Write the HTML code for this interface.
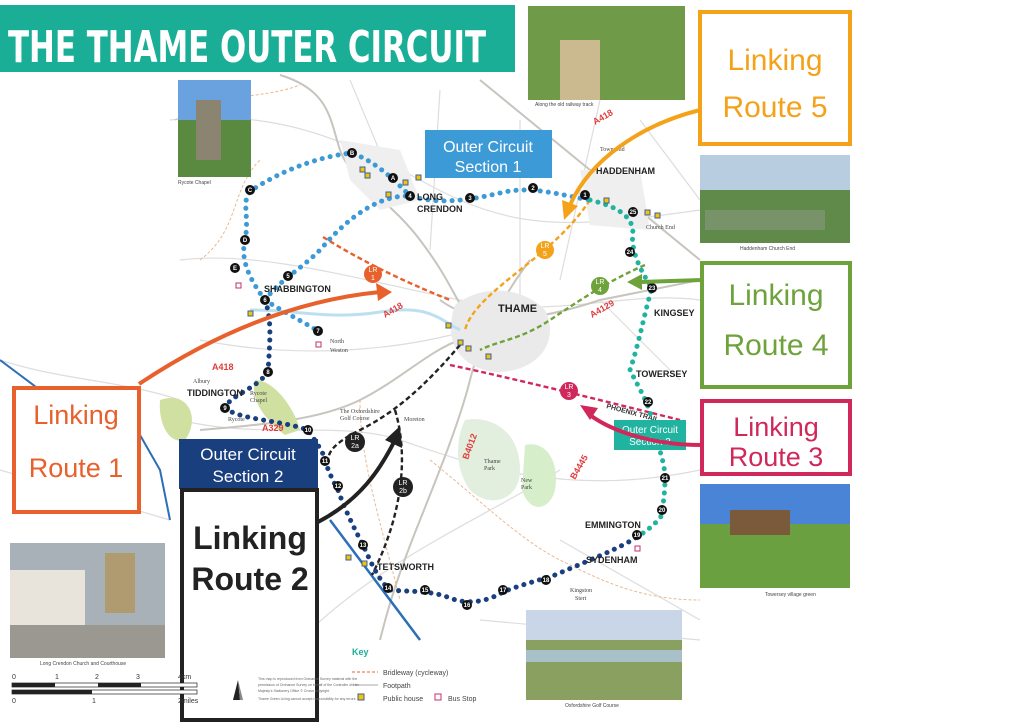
<!DOCTYPE html>
<html><head><meta charset="utf-8"><style>
body{margin:0;width:1024px;height:724px;overflow:hidden;background:#fff;font-family:"Liberation Sans",sans-serif}
svg{display:block}
</style></head><body>
<svg width="1024" height="724" viewBox="0 0 1024 724" xmlns="http://www.w3.org/2000/svg" font-family="Liberation Sans, sans-serif">
<!-- map background features -->
<g fill="none" stroke="#ddd" stroke-width="1.2">
<path d="M170 120 C260 110 330 130 420 180 S560 230 700 210"/>
<path d="M180 260 C260 250 360 280 460 300 S620 290 700 300"/>
<path d="M200 340 C300 360 400 350 470 330"/>
<path d="M180 420 C260 440 340 420 400 440 S560 500 700 470"/>
<path d="M300 640 C380 560 480 520 560 470"/>
<path d="M520 120 L520 300 M600 100 L560 280 M640 120 L700 200"/>
<path d="M350 80 L400 200 M440 90 L430 250 M600 300 L680 380 M560 540 L700 620"/>
<path d="M0 360 C60 380 120 380 180 400 M0 470 L170 520 M480 620 L700 640"/>
</g>
<g fill="none" stroke="#c8c4be" stroke-width="2">
<path d="M280 75 C330 90 330 120 340 150 S390 200 420 240 S450 290 470 320"/>
<path d="M530 260 C500 300 480 340 470 380 S440 470 420 520 S390 600 380 640"/>
<path d="M480 80 L700 260"/>
<path d="M440 300 C480 330 540 320 600 300 L700 280"/>
<path d="M200 430 C260 425 320 420 360 400 S430 350 460 340"/>
</g>
<g fill="none" stroke="#eab890" stroke-width="1" stroke-dasharray="3 2">
<path d="M175 120 C230 90 260 100 300 85"/>
<path d="M200 260 C240 230 230 190 260 160"/>
<path d="M430 460 C480 500 520 540 560 560 S640 600 700 600"/>
<path d="M360 400 C360 460 380 520 400 600"/>
</g>
<!-- Thame town -->
<path d="M455 305 C480 285 520 285 545 310 C560 340 540 370 500 372 C470 372 440 350 455 305Z" fill="#eaeaea"/>
<path d="M340 140 L400 150 L420 200 L380 210 L350 180Z" fill="#efefef"/>
<path d="M580 170 L640 170 L650 230 L590 225Z" fill="#efefef"/>
<!-- parks -->
<path d="M465 420 C490 415 520 430 520 470 C520 500 490 510 470 490 C455 470 455 440 465 420Z" fill="#e2efdf"/>
<path d="M525 445 C545 440 560 460 555 490 C550 510 530 515 522 490Z" fill="#d7eecb"/>
<path d="M160 400 C190 390 200 420 185 440 C170 445 158 425 160 400Z" fill="#cfe0a0"/>
<path d="M255 380 C275 380 295 410 300 430 L285 435 C265 420 250 400 255 380Z" fill="#cfe0a0"/>
<path d="M0 360 L40 390 L120 400 L160 470 L170 520" fill="none" stroke="#2a6fb8" stroke-width="2"/>
<path d="M330 520 L420 640" fill="none" stroke="#2a6fb8" stroke-width="2.5"/>
<path d="M250 310 C300 310 330 320 380 312 S440 320 460 330" fill="none" stroke="#bde0f0" stroke-width="3"/>
<!-- road labels -->
<g fill="#e03c3c" font-size="9" font-weight="bold">
<text x="385" y="318" transform="rotate(-30 385 318)">A418</text>
<text x="595" y="125" transform="rotate(-30 595 125)">A418</text>
<text x="592" y="318" transform="rotate(-30 592 318)">A4129</text>
<text x="212" y="370">A418</text><text x="262" y="431">A329</text>
<text x="468" y="460" transform="rotate(-70 468 460)">B4012</text>
<text x="575" y="480" transform="rotate(-60 575 480)">B4445</text>
<text x="606" y="408" transform="rotate(15 606 408)" fill="#333" font-size="7">PHOENIX TRAIL</text>
</g>
<!-- linking routes dashed -->
<g fill="none" stroke-width="2.4" stroke-dasharray="5 3">
<path d="M323 237 C360 260 400 280 450 300" stroke="#e8602c"/>
<path d="M590 200 C570 230 545 250 520 270 S470 310 465 330" stroke="#f3a21a"/>
<path d="M645 265 C610 280 580 300 550 320 S500 340 480 350" stroke="#6ea23a"/>
<path d="M450 365 C520 380 600 400 680 420" stroke="#d0285a"/>
<path d="M460 345 C430 380 400 410 360 430 S330 460 328 466" stroke="#222"/>
<path d="M395 410 C410 460 400 520 372 575" stroke="#222"/>
</g>
<!-- Section 1 light blue -->
<g fill="none" stroke="#3c9ad6" stroke-width="5" stroke-linecap="round" stroke-dasharray="0.1 8">
<path d="M265 300 C250 280 240 260 245 240 C250 215 240 200 252 190 C290 165 330 155 352 153 C370 160 385 170 410 196 C440 205 470 200 500 193 C530 185 560 195 590 200"/>
<path d="M265 300 C280 280 300 270 320 250 C350 215 380 195 410 196"/>
<path d="M265 300 C280 310 300 320 318 331"/>
</g>
<!-- Section 3 teal -->
<path d="M590 200 C610 205 630 212 633 230 C630 250 640 270 652 288 C645 310 640 340 630 370 C640 390 648 402 652 420 C655 440 665 460 665 478 C665 495 662 510 662 515 C655 525 645 532 637 537" fill="none" stroke="#1fb3a0" stroke-width="5" stroke-linecap="round" stroke-dasharray="0.1 8"/>
<!-- Section 2 navy -->
<path d="M265 300 C272 320 270 340 268 372 C255 390 230 395 225 408 C240 420 280 420 308 430 C318 445 325 455 325 461 C330 475 335 485 338 490 C345 510 355 530 363 545 C370 560 378 580 390 590 C410 592 430 590 450 598 C470 606 490 600 503 592 C520 585 540 580 555 575 C590 560 620 548 637 537" fill="none" stroke="#1a3f7f" stroke-width="5" stroke-linecap="round" stroke-dasharray="0.1 8"/>
<!-- numbered dots -->
<g font-size="6" font-weight="bold" fill="#fff" text-anchor="middle">
<g fill="#111"><circle cx="352" cy="153" r="5"/><circle cx="393" cy="178" r="5"/><circle cx="410" cy="196" r="5"/><circle cx="470" cy="198" r="5"/><circle cx="533" cy="188" r="5"/><circle cx="585" cy="195" r="5"/><circle cx="250" cy="190" r="5"/><circle cx="245" cy="240" r="5"/><circle cx="235" cy="268" r="5"/><circle cx="288" cy="276" r="5"/><circle cx="265" cy="300" r="5"/><circle cx="318" cy="331" r="5"/><circle cx="268" cy="372" r="5"/><circle cx="225" cy="408" r="5"/><circle cx="308" cy="430" r="5"/><circle cx="325" cy="461" r="5"/><circle cx="338" cy="486" r="5"/><circle cx="363" cy="545" r="5"/><circle cx="388" cy="588" r="5"/><circle cx="425" cy="590" r="5"/><circle cx="467" cy="605" r="5"/><circle cx="503" cy="590" r="5"/><circle cx="546" cy="580" r="5"/><circle cx="637" cy="535" r="5"/><circle cx="662" cy="510" r="5"/><circle cx="665" cy="478" r="5"/><circle cx="648" cy="402" r="5"/><circle cx="652" cy="288" r="5"/><circle cx="630" cy="252" r="5"/><circle cx="633" cy="212" r="5"/></g>
<text x="352" y="155">B</text><text x="393" y="180">A</text><text x="410" y="198">4</text><text x="470" y="200">3</text><text x="533" y="190">2</text><text x="585" y="197">1</text><text x="250" y="192">C</text><text x="245" y="242">D</text><text x="235" y="270">E</text><text x="288" y="278">5</text><text x="265" y="302">6</text><text x="318" y="333">7</text><text x="268" y="374">8</text><text x="225" y="410">9</text><text x="308" y="432">10</text><text x="325" y="463">11</text><text x="338" y="488">12</text><text x="363" y="547">13</text><text x="388" y="590">14</text><text x="425" y="592">15</text><text x="467" y="607">16</text><text x="503" y="592">17</text><text x="546" y="582">18</text><text x="637" y="537">19</text><text x="662" y="512">20</text><text x="665" y="480">21</text><text x="648" y="404">22</text><text x="652" y="290">23</text><text x="630" y="254">24</text><text x="633" y="214">25</text>
</g>
<!-- LR circles -->
<g font-size="7" fill="#fff" text-anchor="middle">
<circle cx="373" cy="274" r="9" fill="#e8602c"/><text x="373" y="272">LR</text><text x="373" y="280">1</text>
<circle cx="545" cy="250" r="9" fill="#f3a21a"/><text x="545" y="248">LR</text><text x="545" y="256">5</text>
<circle cx="600" cy="286" r="9" fill="#6ea23a"/><text x="600" y="284">LR</text><text x="600" y="292">4</text>
<circle cx="569" cy="391" r="9" fill="#d0285a"/><text x="569" y="389">LR</text><text x="569" y="397">3</text>
<circle cx="355" cy="442" r="10" fill="#222"/><text x="355" y="440">LR</text><text x="355" y="448">2a</text>
<circle cx="403" cy="487" r="10" fill="#222"/><text x="403" y="485">LR</text><text x="403" y="493">2b</text>
</g>
<!-- pubs -->
<g fill="#f5c400" stroke="#3a5fa0" stroke-width="1">
<rect x="360" y="167" width="5" height="5"/><rect x="365" y="173" width="5" height="5"/><rect x="386" y="192" width="5" height="5"/><rect x="403" y="180" width="5" height="5"/><rect x="416" y="175" width="5" height="5"/><rect x="248" y="311" width="5" height="5"/><rect x="446" y="323" width="5" height="5"/><rect x="458" y="340" width="5" height="5"/><rect x="466" y="346" width="5" height="5"/><rect x="486" y="354" width="5" height="5"/><rect x="645" y="210" width="5" height="5"/><rect x="655" y="213" width="5" height="5"/><rect x="604" y="198" width="5" height="5"/><rect x="346" y="555" width="5" height="5"/><rect x="362" y="561" width="5" height="5"/><rect x="635" y="546" width="5" height="5" fill="#fff" stroke="#c0306a"/><rect x="316" y="342" width="5" height="5" fill="#fff" stroke="#c0306a"/><rect x="236" y="283" width="5" height="5" fill="#fff" stroke="#c0306a"/>
</g>
<!-- place names -->
<g font-size="9" font-weight="bold" fill="#222">
<text x="417" y="200">LONG</text><text x="417" y="212">CRENDON</text>
<text x="596" y="174">HADDENHAM</text><text x="264" y="292">SHABBINGTON</text>
<text x="498" y="312" font-size="11">THAME</text><text x="654" y="316">KINGSEY</text>
<text x="636" y="377">TOWERSEY</text><text x="187" y="396">TIDDINGTON</text>
<text x="377" y="570">TETSWORTH</text><text x="585" y="528">EMMINGTON</text><text x="586" y="563">SYDENHAM</text>
</g>
<g font-size="6" fill="#444" font-family="Liberation Serif, serif">
<text x="330" y="343">North</text><text x="330" y="352">Weston</text><text x="193" y="383">Albury</text>
<text x="228" y="421">Rycote</text><text x="340" y="413">The Oxfordshire</text><text x="340" y="420">Golf Course</text>
<text x="404" y="421">Moreton</text><text x="484" y="463">Thame</text><text x="484" y="470">Park</text>
<text x="521" y="482">New</text><text x="521" y="489">Park</text><text x="570" y="592">Kingston</text><text x="575" y="600">Stert</text>
<text x="646" y="229">Church End</text><text x="600" y="151">Townsend</text><text x="250" y="395">Rycote</text><text x="250" y="402">Chapel</text>
</g>
<!-- title -->
<rect x="0" y="5" width="515" height="67" fill="#1aae97"/>
<text x="8" y="62" font-size="44" font-weight="bold" fill="#fff" font-family="DejaVu Sans Condensed, Liberation Sans Narrow, sans-serif" textLength="478" lengthAdjust="spacingAndGlyphs">THE THAME OUTER CIRCUIT</text>
<!-- photos -->
<rect x="178" y="80" width="73" height="97" fill="#5a8a40"/><rect x="178" y="80" width="73" height="40" fill="#6aa2e0"/><rect x="196" y="100" width="25" height="60" fill="#8a8470"/>
<text x="178" y="184" font-size="5" fill="#444">Rycote Chapel</text>
<rect x="528" y="6" width="157" height="94" fill="#6f9a48"/><rect x="560" y="40" width="40" height="60" fill="#cbb990"/>
<text x="535" y="106" font-size="5" fill="#444">Along the old railway track</text>
<rect x="700" y="155" width="150" height="88" fill="#5f8a4a"/><rect x="700" y="155" width="150" height="35" fill="#b8cde0"/><rect x="705" y="210" width="120" height="20" fill="#78926a"/>
<text x="740" y="250" font-size="5" fill="#444">Haddenham Church End</text>
<rect x="700" y="484" width="150" height="104" fill="#6ba040"/><rect x="700" y="484" width="150" height="40" fill="#4a84d6"/><rect x="730" y="510" width="60" height="25" fill="#7a5a3a"/>
<text x="765" y="596" font-size="5" fill="#444">Towersey village green</text>
<rect x="10" y="543" width="155" height="115" fill="#a8b0b8"/><rect x="10" y="570" width="75" height="60" fill="#e8e4dc"/><rect x="105" y="553" width="30" height="60" fill="#b09a70"/><rect x="10" y="625" width="155" height="33" fill="#9a9890"/>
<text x="40" y="665" font-size="5" fill="#444">Long Crendon Church and Courthouse</text>
<rect x="526" y="610" width="156" height="90" fill="#8aa060"/><rect x="526" y="610" width="156" height="30" fill="#c8d6e8"/><rect x="526" y="650" width="156" height="12" fill="#a8c0c8"/>
<text x="565" y="707" font-size="5" fill="#444">Oxfordshire Golf Course</text>
<!-- Section boxes -->
<rect x="425" y="130" width="127" height="48" fill="#3c9ad6"/>
<text x="488" y="152" font-size="16" fill="#fff" text-anchor="middle">Outer Circuit</text><text x="488" y="172" font-size="16" fill="#fff" text-anchor="middle">Section 1</text>
<rect x="614" y="420" width="72" height="30" fill="#1fb3a0"/>
<text x="650" y="433" font-size="10" fill="#fff" text-anchor="middle">Outer Circuit</text><text x="650" y="445" font-size="10" fill="#fff" text-anchor="middle">Section 3</text>
<rect x="179" y="439" width="139" height="50" fill="#1a3f7f"/>
<text x="248" y="460" font-size="17" fill="#fff" text-anchor="middle">Outer Circuit</text><text x="248" y="482" font-size="17" fill="#fff" text-anchor="middle">Section 2</text>
<!-- Linking route boxes -->
<rect x="182" y="490" width="135" height="230" fill="#fff" stroke="#222" stroke-width="4"/>
<text x="250" y="549" font-size="32" font-weight="bold" fill="#222" text-anchor="middle">Linking</text><text x="250" y="590" font-size="32" font-weight="bold" fill="#222" text-anchor="middle">Route 2</text>
<rect x="14" y="388" width="125" height="124" fill="#fff" stroke="#e8602c" stroke-width="4"/>
<text x="76" y="424" font-size="27" fill="#e8602c" text-anchor="middle">Linking</text><text x="76" y="477" font-size="27" fill="#e8602c" text-anchor="middle">Route 1</text>
<rect x="700" y="12" width="150" height="132" fill="#fff" stroke="#f3a21a" stroke-width="4"/>
<text x="775" y="70" font-size="30" fill="#f3a21a" text-anchor="middle">Linking</text><text x="775" y="117" font-size="30" fill="#f3a21a" text-anchor="middle">Route 5</text>
<rect x="702" y="263" width="148" height="124" fill="#fff" stroke="#6ea23a" stroke-width="4"/>
<text x="776" y="305" font-size="30" fill="#6ea23a" text-anchor="middle">Linking</text><text x="776" y="355" font-size="30" fill="#6ea23a" text-anchor="middle">Route 4</text>
<rect x="702" y="401" width="148" height="73" fill="#fff" stroke="#d0285a" stroke-width="4"/>
<text x="776" y="436" font-size="27" fill="#d0285a" text-anchor="middle">Linking</text><text x="776" y="466" font-size="27" fill="#d0285a" text-anchor="middle">Route 3</text>
<!-- arrows -->
<g fill="none" stroke-width="4">
<path d="M139 384 C220 330 300 300 380 292" stroke="#e8602c"/>
<path d="M700 110 C640 125 590 160 570 205" stroke="#f3a21a"/>
<path d="M702 280 L640 282" stroke="#6ea23a"/>
<path d="M702 445 C650 445 610 430 590 415" stroke="#d0285a"/>
<path d="M318 522 C360 500 380 470 395 440" stroke="#222"/>
</g>
<polygon points="392,292 376,283 378,301" fill="#e8602c"/>
<polygon points="564,220 562,200 578,206" fill="#f3a21a"/>
<polygon points="627,282 642,274 642,290" fill="#6ea23a"/>
<polygon points="580,405 598,408 590,420" fill="#d0285a"/>
<polygon points="400,426 385,440 402,448" fill="#222"/>
<!-- key -->
<text x="352" y="655" font-size="9" font-weight="bold" fill="#1aae97">Key</text>
<line x1="352" y1="672" x2="378" y2="672" stroke="#e8602c" stroke-dasharray="3 2"/><text x="383" y="675" font-size="7" fill="#444">Bridleway (cycleway)</text>
<line x1="352" y1="685" x2="378" y2="685" stroke="#aaa"/><text x="383" y="688" font-size="7" fill="#444">Footpath</text>
<rect x="358" y="694" width="6" height="6" fill="#f5c400" stroke="#3a5fa0"/><text x="383" y="701" font-size="7" fill="#444">Public house</text>
<rect x="435" y="694" width="6" height="6" fill="#fff" stroke="#c0306a"/><text x="448" y="701" font-size="7" fill="#444">Bus Stop</text>
<g font-size="3.5" fill="#666"><text x="258" y="680">This map is reproduced from Ordnance Survey material with the</text><text x="258" y="686">permission of Ordnance Survey on behalf of the Controller of Her</text><text x="258" y="692">Majesty's Stationery Office © Crown copyright</text><text x="258" y="700">Thame Green Living cannot accept responsibility for any errors</text></g>
<polygon points="240,700 233,700 238,680" fill="#222"/><polygon points="238,680 243,700 240,700" fill="#888"/>
<!-- scale -->
<g font-size="7" fill="#333"><text x="12" y="679">0</text><text x="55" y="679">1</text><text x="95" y="679">2</text><text x="136" y="679">3</text><text x="178" y="679">4km</text>
<text x="12" y="703">0</text><text x="92" y="703">1</text><text x="178" y="703">2miles</text></g>
<rect x="12" y="683" width="185" height="4" fill="#fff" stroke="#222" stroke-width="0.7"/>
<rect x="12" y="683" width="43" height="4" fill="#222"/><rect x="98" y="683" width="43" height="4" fill="#222"/>
<rect x="12" y="690" width="185" height="4" fill="#fff" stroke="#222" stroke-width="0.7"/><rect x="12" y="690" width="80" height="4" fill="#222"/>
</svg>
</body></html>
